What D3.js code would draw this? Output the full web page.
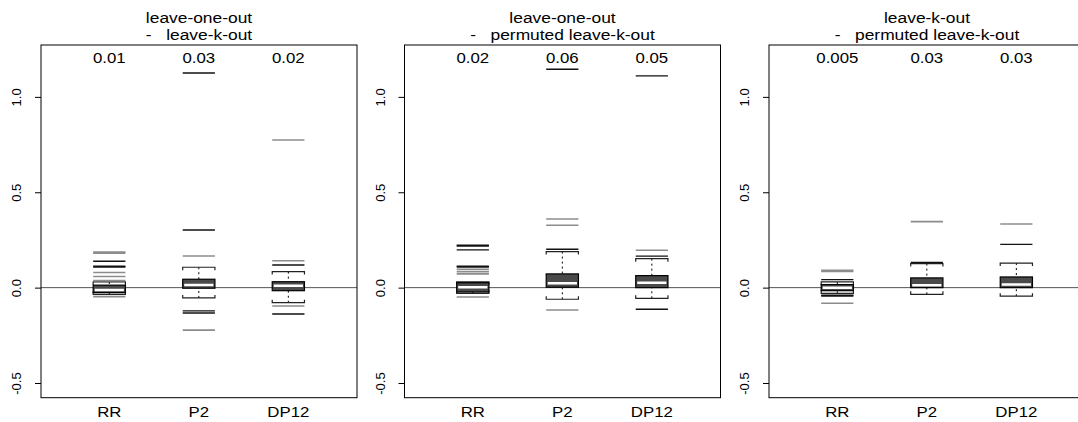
<!DOCTYPE html>
<html>
<head>
<meta charset="utf-8">
<script src="https://cdn.jsdelivr.net/npm/d3@7"></script>
<style>
  body { margin: 0; background: #fff; }
  text { font-family: "Liberation Sans", Arial, sans-serif; fill: #000; }
</style>
</head>
<body>
<div id="chart"></div>
<script>
var W = 1078, H = 422;

// ---- data ----
var groups = ["RR", "P2", "DP12"];
var titles = [
    ["leave-one-out", "-   leave-k-out"],
    ["leave-one-out", "-   permuted leave-k-out"],
    ["leave-k-out", "-   permuted leave-k-out"]
];
var topLabels = [
    ["0.01", "0.03", "0.02"],
    ["0.02", "0.06", "0.05"],
    ["0.005", "0.03", "0.03"]
];
var yTicks = [-0.5, 0.0, 0.5, 1.0];

// [lower whisker, q1, median, q3, upper whisker] for RR, P2, DP12
var stats1 = [[-0.035, -0.026, -0.012, 0.013, 0.03], [-0.054, -0.003, 0.014, 0.044, 0.107], [-0.079, -0.016, 0.010, 0.031, 0.084]];
var stats2 = [[-0.03, -0.023, 0.002, 0.026, 0.03], [-0.061, 0.002, 0.023, 0.072, 0.189], [-0.056, 0.0, 0.026, 0.063, 0.152]];
var stats3 = [[-0.03, -0.016, 0.0, 0.016, 0.03], [-0.035, 0.0, 0.012, 0.051, 0.126], [-0.045, 0.0, 0.016, 0.056, 0.129]];

// outliers, split by shade
var grayOut1 = [[0.186, 0.180, 0.079, 0.058, 0.037, -0.047], [0.166, -0.223], [0.774, 0.141, -0.096]];
var blackOut1 = [[0.138, 0.112, 0.108], [1.125, 0.302, -0.122, -0.133], [0.119, -0.138]];
var grayOut2 = [[0.096, 0.084, 0.072, -0.049], [0.360, 0.327, -0.117], [0.196]];
var blackOut2 = [[0.222, 0.218, 0.198, 0.112, 0.108], [1.145, 0.201], [1.11, 0.165, -0.113]];
var grayOut3 = [[0.091, 0.085, -0.082], [0.346], [0.334]];
var blackOut3 = [[0.042, -0.040, -0.044], [0.132], [0.227]];

var panels = [
    { stats: stats1, gray: grayOut1, black: blackOut1 },
    { stats: stats2, gray: grayOut2, black: blackOut2 },
    { stats: stats3, gray: grayOut3, black: blackOut3 }
];

var panelLeft = [41, 404.5, 769];
var panelW = 316, plotTop = 45, plotBottom = 397.7;
var sx = 1.2; // the reference text is stretched sideways

var svg = d3.select("#chart").append("svg")
    .attr("width", W).attr("height", H);

var y = d3.scaleLinear().domain([-0.577, 1.272]).range([plotBottom, plotTop]);

panels.forEach(function(p, pi) {
    var left = panelLeft[pi];
    var x = d3.scaleLinear().domain([0.237, 3.767]).range([left, left + panelW]);
    var hw = 0.18; // half box width in x units
    var g = svg.append("g");

    g.append("clipPath").attr("id", "clip" + pi)
        .append("rect").attr("x", left).attr("y", plotTop).attr("width", panelW).attr("height", plotBottom - plotTop);

    // zero line
    g.append("line")
        .attr("x1", left).attr("x2", left + panelW)
        .attr("y1", y(0)).attr("y2", y(0))
        .attr("stroke", "#555").attr("stroke-width", 1);

    var plot = g.append("g").attr("clip-path", "url(#clip" + pi + ")");

    groups.forEach(function(grp, i) {
        var cx = x(i + 1), x0 = x(i + 1 - hw), x1 = x(i + 1 + hw);
        var s = p.stats[i];

        // whiskers
        [[s[0], s[1]], [s[4], s[3]]].forEach(function(w) {
            plot.append("line")
                .attr("x1", cx).attr("x2", cx)
                .attr("y1", y(w[0])).attr("y2", y(w[1]))
                .attr("stroke", "#000").attr("stroke-dasharray", "2,3");
            var dir = w[0] < w[1] ? -1 : 1;
            plot.append("path")
                .attr("d", "M" + x0 + "," + (y(w[0]) + dir * 3) + "V" + y(w[0]) + "H" + x1 + "V" + (y(w[0]) + dir * 3))
                .attr("fill", "none").attr("stroke", "#222").attr("stroke-width", 1.2);
        });

        // box
        plot.append("rect")
            .attr("x", x0).attr("width", x1 - x0)
            .attr("y", y(s[3])).attr("height", y(s[1]) - y(s[3]))
            .attr("fill", "#4a4a4a").attr("stroke", "#000").attr("stroke-width", 1.2);
        plot.append("line")
            .attr("x1", x0 + 1.5).attr("x2", x1 - 1.5)
            .attr("y1", y(s[2])).attr("y2", y(s[2]))
            .attr("stroke", "#fff").attr("stroke-width", 2.5);

        // outliers
        plot.selectAll(null).data(p.gray[i]).enter().append("line")
            .attr("x1", x0).attr("x2", x1)
            .attr("y1", function(d) { return y(d); }).attr("y2", function(d) { return y(d); })
            .attr("stroke", "#8c8c8c").attr("stroke-width", 1.6);
        plot.selectAll(null).data(p.black[i]).enter().append("line")
            .attr("x1", x0).attr("x2", x1)
            .attr("y1", function(d) { return y(d); }).attr("y2", function(d) { return y(d); })
            .attr("stroke", "#111").attr("stroke-width", 1.4);

        // numbers on top
        g.append("text")
            .attr("transform", "translate(" + cx + ",63) scale(" + sx + ",1)")
            .attr("text-anchor", "middle").style("font-size", "14px")
            .text(topLabels[pi][i]);

        // group labels
        g.append("text")
            .attr("transform", "translate(" + cx + ",417) scale(" + sx + ",1)")
            .attr("text-anchor", "middle").style("font-size", "14px")
            .text(grp);
    });

    // frame
    g.append("rect")
        .attr("x", left).attr("y", plotTop).attr("width", panelW).attr("height", plotBottom - plotTop)
        .attr("fill", "none").attr("stroke", "#000").attr("stroke-width", 1);

    // y axis
    var ax = g.append("g").attr("transform", "translate(" + left + ",0)")
        .call(d3.axisLeft(y).tickValues(yTicks).tickSize(6).tickFormat(function(d) { return d.toFixed(1); }));
    ax.select(".domain").remove();
    ax.selectAll("text")
        .attr("transform", "rotate(-90)")
        .attr("x", 0).attr("y", -20).attr("dy", 0)
        .attr("text-anchor", "middle")
        .style("font-size", "13px").style("font-family", "Liberation Sans, Arial, sans-serif");

    // title, two lines
    titles[pi].forEach(function(t, k) {
        g.append("text")
            .attr("transform", "translate(" + (left + panelW / 2) + "," + (22.5 + k * 17) + ") scale(" + sx + ",1)")
            .attr("text-anchor", "middle").style("font-size", "14.5px")
            .style("white-space", "pre")
            .text(t);
    });
});
</script>
</body>
</html>
